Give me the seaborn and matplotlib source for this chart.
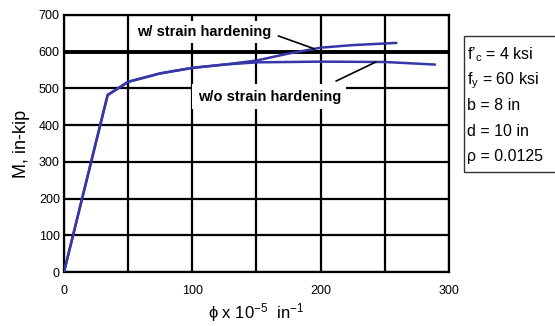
import matplotlib
matplotlib.use("Agg")
import matplotlib.pyplot as plt
import seaborn as sns
import pandas as pd
from matplotlib.patches import Rectangle

# curvature (x 10^-5 in^-1) and moment (in-kip)
phi_hard = [0, 34, 50, 75, 100, 125, 150, 175, 200, 225, 259]
m_hard = [0, 482, 518, 541, 556, 565, 576, 595, 611, 618, 624]
phi_plain = [0, 34, 50, 75, 100, 125, 150, 200, 250, 289]
m_plain = [0, 482, 518, 541, 556, 565, 571, 573, 572, 565]

x_ticks = [0, 100, 200, 300]
x_minor = [50, 150, 250]
y_ticks = [0, 100, 200, 300, 400, 500, 600, 700]

label_hard = "w/ strain hardening"
label_plain = "w/o strain hardening"
leader_hard = [(167, 643), (195, 608)]
leader_plain = [(212, 520), (243, 572)]
text_hard_pos = (109, 654)
text_plain_pos = (160, 477)

props = [r"f’$_{\rm c}$ = 4 ksi", r"f$_{\rm y}$ = 60 ksi", "b = 8 in", "d = 10 in", "ρ = 0.0125"]

line_color = "#3636a6"

sns.set_style("white")
plt.rcParams["font.family"] = ["Liberation Sans", "DejaVu Sans"]
plt.rcParams["mathtext.fontset"] = "custom"
plt.rcParams["mathtext.rm"] = "Liberation Sans"
plt.rcParams["mathtext.it"] = "Liberation Sans:italic"
plt.rcParams["mathtext.bf"] = "Liberation Sans:bold"
plt.rcParams["text.color"] = "black"
plt.rcParams["axes.labelcolor"] = "black"

df = pd.concat([
    pd.DataFrame({"phi": phi_hard, "M": m_hard, "case": "hard"}),
    pd.DataFrame({"phi": phi_plain, "M": m_plain, "case": "plain"}),
])

fig = plt.figure(figsize=(5.55, 3.26), dpi=100)
ax = fig.add_axes([0.1153, 0.1656, 0.6937, 0.7884])

sns.lineplot(data=df, x="phi", y="M", hue="case", palette=[line_color, line_color],
             estimator=None, sort=False, legend=False, lw=1.8, ax=ax, zorder=4)

ax.set_xlim(0, 300)
ax.set_ylim(0, 700)
ax.set_xticks(x_ticks)
ax.set_xticks(x_minor, minor=True)
ax.set_yticks(y_ticks)
ax.grid(which="both", color="black", lw=1.6)
ax.axhline(600, color="black", lw=2.8, zorder=1.5)
ax.set_axisbelow(True)
ax.tick_params(which="both", length=0, labelsize=9, colors="black")
ax.tick_params(axis="x", pad=9)
ax.tick_params(axis="y", pad=3)
for s in ax.spines.values():
    s.set_color("black")
    s.set_linewidth(1.6)

ax.set_ylabel("M, in-kip", fontsize=13, labelpad=6)
ax.set_xlabel("\u03d5 x 10$^{-5}$  in$^{-1}$", fontsize=12, labelpad=3)

# annotations with white boxes over the grid
ax.text(*text_hard_pos, label_hard, fontsize=10.5, fontweight="bold", ha="center", va="center",
        bbox=dict(facecolor="white", edgecolor="none", pad=3), zorder=3)
ax.text(*text_plain_pos, label_plain, fontsize=10.5, fontweight="bold", ha="center", va="center",
        bbox=dict(facecolor="white", edgecolor="none", pad=4), zorder=3)
for (x0, y0), (x1, y1) in [leader_hard, leader_plain]:
    ax.annotate("", xy=(x1, y1), xytext=(x0, y0),
                arrowprops=dict(arrowstyle="-", color="black", lw=1.2, shrinkA=0, shrinkB=0),
                zorder=5)

# property box
fig.patches.append(Rectangle((464 / 555, 1 - 172 / 326), 0.2, (172 - 36) / 326,
                             transform=fig.transFigure, facecolor="white",
                             edgecolor="#333333", lw=1.0))
for i, t in enumerate(props):
    fig.text(467 / 555, 1 - (55 + 25.5 * i) / 326, t, fontsize=11.5, va="center", ha="left")

fig.savefig("out.png", dpi=100)
